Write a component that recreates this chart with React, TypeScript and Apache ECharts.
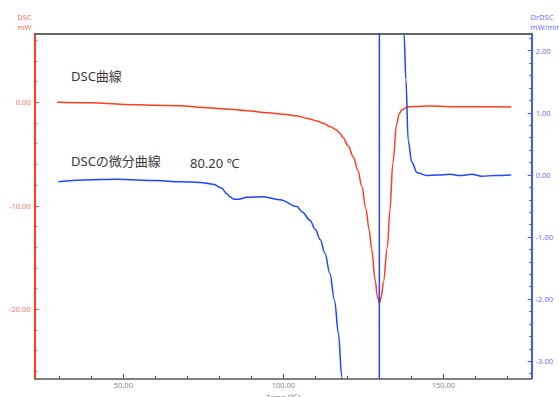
import React, { useEffect, useRef } from "react";
import * as echarts from "echarts";

// DSC curve (left axis, mW)
const dscTemp = [29.3, 40, 50, 60, 67.7, 75, 82, 88.6, 95, 100, 104.2, 108, 110.5, 112.4, 114.8, 116.5, 117.7, 118.75, 120.2, 121.9, 123.3, 124.5, 125.8, 126.8, 127.6, 128.7, 129.4, 130.0, 130.6, 131.25, 132.5, 133.3, 134.2, 135.4, 136.2, 137.0, 138.6, 141, 145.8, 152.1, 160, 171.2];
const dscValue = [0.0, -0.05, -0.2, -0.28, -0.33, -0.5, -0.65, -0.81, -1.0, -1.15, -1.32, -1.6, -1.8, -2.03, -2.36, -2.65, -3.0, -3.45, -4.2, -5.3, -6.6, -8.1, -10.3, -12.3, -14.2, -17.2, -18.8, -19.42, -18.8, -17.4, -14.0, -10.4, -5.9, -2.1, -1.1, -0.74, -0.48, -0.4, -0.36, -0.42, -0.43, -0.45];

// DrDSC curve (right axis, mW/min)
const drTemp = [29.7, 37.5, 47.9, 60.4, 67.7, 74, 78.1, 80.7, 82.3, 83.3, 84.5, 86, 88.6, 93.7, 99, 104.2, 106, 108.3, 110, 111.5, 113, 114.5, 116, 117.2, 118.25, 119.5, 121, 124, 127, 129.9, 130.1, 134, 136.5, 137.7, 138.3, 139.0, 140.1, 141.8, 144.8, 148, 152.1, 155.3, 158.9, 162, 166, 171.2];
const drValue = [-0.11, -0.08, -0.07, -0.09, -0.11, -0.12, -0.15, -0.21, -0.3, -0.35, -0.39, -0.39, -0.36, -0.35, -0.4, -0.51, -0.6, -0.73, -0.88, -1.04, -1.26, -1.58, -2.02, -2.55, -3.25, -4.4, -6.2, -12, -20, -30, 30, 20, 6, 2.27, 1.53, 0.56, 0.21, 0.035, -0.01, 0.0, 0.01, -0.01, 0.01, -0.02, -0.01, 0.0];

// Axis ticks
const xMajor = [50, 100, 150];
const xMinor = [30, 40, 60, 70, 80, 90, 110, 120, 130, 140, 160, 170];
const leftMajor = [-20, -10, 0];
const leftMinor = [-26, -24, -22, -18, -16, -14, -12, -8, -6, -4, -2, 2, 4, 6];
const rightMajor = [-3, -2, -1, 0, 1, 2];
const rightMinor = [-3.2, -2.8, -2.6, -2.4, -2.2, -1.8, -1.6, -1.4, -1.2, -0.8, -0.6, -0.4, -0.2, 0.2, 0.4, 0.6, 0.8, 1.2, 1.4, 1.6, 1.8, 2.2];

const X_MIN = 22.3, X_MAX = 177.6;
const L_MIN = -26.67, L_MAX = 6.63;
const R_MIN = -3.274, R_MAX = 2.274;

const RED = "#ff3d1f";
const RED_LABEL = "#ff7461";
const BLUE = "#1f45ff";
const BLUE_AXIS = "#3a5cff";
const BLUE_LABEL = "#6f6fff";
const FONT = '"Noto Sans", "Noto Sans CJK JP", sans-serif';

export default function App() {
  const ref = useRef<HTMLDivElement>(null);
  useEffect(() => {
    if (!ref.current) return;
    const chart = echarts.init(ref.current, undefined, { renderer: "svg" });
    const fmt = (v: number) => v.toFixed(2);
    chart.setOption({
      animation: false,
      textStyle: { fontFamily: FONT },
      grid: { left: 34.7, right: 27.3, top: 33.7, bottom: 18.7, containLabel: false, outerBoundsMode: "none" },
      xAxis: [
        {
          type: "value", min: X_MIN, max: X_MAX, position: "bottom",
          name: "Temp [℃]", nameLocation: "middle", nameGap: 15,
          nameTextStyle: { color: "#8a8a8a", fontSize: 7.5, fontFamily: FONT },
          axisLine: { show: true, onZero: false, lineStyle: { color: "#555", width: 1.6 } },
          axisTick: { show: true, inside: true, length: 4, customValues: xMajor, lineStyle: { color: "#444" } },
          axisLabel: { show: true, customValues: xMajor, formatter: fmt, color: "#8a8a8a", fontSize: 7.5, margin: 3 },
          splitLine: { show: false },
        },
        {
          type: "value", min: X_MIN, max: X_MAX, position: "top",
          axisLine: { show: true, onZero: false, lineStyle: { color: "#666", width: 2 } },
          axisTick: { show: false }, axisLabel: { show: false }, splitLine: { show: false },
        },
        {
          type: "value", min: X_MIN, max: X_MAX, position: "bottom",
          axisLine: { show: false, onZero: false },
          axisTick: { show: true, inside: true, length: 2.5, customValues: xMinor, lineStyle: { color: "#444" } },
          axisLabel: { show: false }, splitLine: { show: false },
        },
      ],
      yAxis: [
        {
          type: "value", min: L_MIN, max: L_MAX, position: "left",
          axisLine: { show: true, onZero: false, lineStyle: { color: RED, width: 2 } },
          axisTick: { show: true, inside: true, length: 4, customValues: leftMajor, lineStyle: { color: RED } },
          axisLabel: { show: true, customValues: leftMajor, formatter: fmt, color: RED_LABEL, fontSize: 7.5, margin: 4 },
          splitLine: { show: false },
        },
        {
          type: "value", min: R_MIN, max: R_MAX, position: "right",
          axisLine: { show: true, onZero: false, lineStyle: { color: BLUE_AXIS, width: 2 } },
          axisTick: { show: true, inside: true, length: 4, customValues: rightMajor, lineStyle: { color: BLUE_AXIS } },
          axisLabel: { show: true, customValues: rightMajor, formatter: fmt, color: BLUE_LABEL, fontSize: 7.5, margin: 4 },
          splitLine: { show: false },
        },
        {
          type: "value", min: L_MIN, max: L_MAX, position: "left",
          axisLine: { show: false, onZero: false },
          axisTick: { show: true, inside: true, length: 2.5, customValues: leftMinor, lineStyle: { color: RED } },
          axisLabel: { show: false }, splitLine: { show: false },
        },
        {
          type: "value", min: R_MIN, max: R_MAX, position: "right",
          axisLine: { show: false, onZero: false },
          axisTick: { show: true, inside: true, length: 2.5, customValues: rightMinor, lineStyle: { color: BLUE_AXIS } },
          axisLabel: { show: false }, splitLine: { show: false },
        },
      ],
      series: [
        {
          name: "DSC", type: "line", xAxisIndex: 0, yAxisIndex: 0,
          data: dscTemp.map((t, i) => [t, dscValue[i]]),
          showSymbol: false, smooth: 0.35, smoothMonotone: "x",
          lineStyle: { color: RED, width: 1.5 }, clip: true,
        },
        {
          name: "DrDSC", type: "line", xAxisIndex: 0, yAxisIndex: 1,
          data: drTemp.map((t, i) => [t, drValue[i]]),
          showSymbol: false, smooth: 0.35, smoothMonotone: "x",
          lineStyle: { color: BLUE, width: 1.5 }, clip: true,
        },
      ],
      graphic: [
        { type: "text", x: 24.5, y: 16.5, style: { text: "DSC", fill: RED_LABEL, fontSize: 7.5, fontFamily: FONT, align: "center", verticalAlign: "middle" } },
        { type: "text", x: 24.5, y: 27, style: { text: "mW", fill: RED_LABEL, fontSize: 7.5, fontFamily: FONT, align: "center", verticalAlign: "middle" } },
        { type: "text", x: 530.5, y: 16.5, style: { text: "DrDSC", fill: BLUE_LABEL, fontSize: 7.5, fontFamily: FONT, align: "left", verticalAlign: "middle" } },
        { type: "text", x: 530.5, y: 27, style: { text: "mW/min", fill: BLUE_LABEL, fontSize: 7.5, fontFamily: FONT, align: "left", verticalAlign: "middle" } },
        { type: "text", x: 71, y: 76, style: { text: "DSC曲線", fill: "#3a3a3a", fontSize: 13, fontFamily: FONT, align: "left", verticalAlign: "middle" } },
        { type: "text", x: 71, y: 161, style: { text: "DSCの微分曲線", fill: "#3a3a3a", fontSize: 13, fontFamily: FONT, align: "left", verticalAlign: "middle" } },
        { type: "text", x: 190, y: 163, style: { text: "80.20 ℃", fill: "#3a3a3a", fontSize: 13, fontFamily: FONT, align: "left", verticalAlign: "middle" } },
      ],
    });
    return () => chart.dispose();
  }, []);
  return <div ref={ref} style={{ position: "absolute", left: 0, top: 0, width: 559, height: 397 }} />;
}
